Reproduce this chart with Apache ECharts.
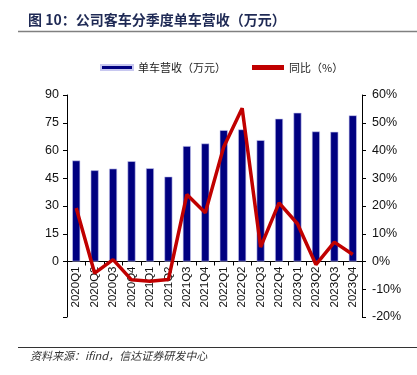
<!DOCTYPE html>
<html>
<head>
<meta charset="utf-8">
<script src="https://cdn.jsdelivr.net/npm/echarts@6/dist/echarts.min.js"></script>
<style>
html,body{margin:0;padding:0;background:#fff;}
#chart{width:417px;height:375px;}
</style>
</head>
<body>
<div id="chart"></div>
<script>
var quarters = ['2020Q1','2020Q2','2020Q3','2020Q4','2021Q1','2021Q2','2021Q3','2021Q4',
	'2022Q1','2022Q2','2022Q3','2022Q4','2023Q1','2023Q2','2023Q3','2023Q4'];
// 单车营收（万元）
var revenue = [54.6,49.3,50.2,54.2,50.4,45.9,62.4,63.8,71.0,71.4,65.6,77.2,80.4,70.3,70.1,79.0];
// 同比（%）
var yoy = [19.3,-4.2,0.7,-6.6,-7.1,-6.5,24.1,17.6,41.3,55.2,5.2,21.1,13.6,-1.1,7.0,2.5];
var leftLabels = [0,15,30,45,60,75,90];

var cjk = '"Noto Sans CJK SC", sans-serif';
var myChart = echarts.init(document.getElementById('chart'));
var option = {
	animation:false,
	textStyle:{fontFamily:'"Liberation Sans", Arial, sans-serif'},
	graphic:[
		{type:'text',left:28,top:13,style:{text:'图 10：公司客车分季度单车营收（万元）',font:'bold 14px ' + cjk,fill:'#1f2a55'}},
		{type:'line',shape:{x1:18,y1:31.5,x2:417,y2:31.5},style:{stroke:'#808080',lineWidth:1.5}},
		{type:'line',shape:{x1:18,y1:347.5,x2:417,y2:347.5},style:{stroke:'#333',lineWidth:1}},
		{type:'text',left:30,top:350,style:{text:'资料来源：ifind，信达证券研发中心',font:'italic 11px ' + cjk,fill:'#333'}}
	],
	legend:{
		top:57,left:95,itemGap:26,itemWidth:32,itemHeight:5,
		textStyle:{fontFamily:cjk,fontSize:11,color:'#222'},
		data:[{name:'单车营收（万元）',icon:'rect'},{name:'同比（%）',icon:'rect'}]
	},
	grid:{left:67,right:55,top:95,bottom:58,containLabel:false},
	xAxis:{
		type:'category',
		data:quarters,
		offset:-55.5,
		axisLine:{onZero:false,lineStyle:{color:'#000',width:1}},
		axisTick:{show:true,inside:false,length:4,lineStyle:{color:'#000'}},
		axisLabel:{rotate:90,fontSize:11.5,color:'#111',margin:5,interval:0}
	},
	yAxis:[
		{
			type:'value',min:-30,max:90,interval:15,
			splitLine:{show:false},
			axisLine:{show:true,lineStyle:{color:'#000'}},
			axisTick:{show:true,length:4,lineStyle:{color:'#000'},customValues:[-30,0,15,30,45,60,75,90]},
			axisLabel:{fontSize:12.5,color:'#111',margin:8,customValues:leftLabels}
		},
		{
			type:'value',min:-20,max:60,interval:10,
			splitLine:{show:false},
			axisLine:{show:true,lineStyle:{color:'#000'}},
			axisTick:{show:true,length:4,lineStyle:{color:'#000'}},
			axisLabel:{fontSize:12.5,color:'#111',margin:10,formatter:'{value}%'}
		}
	],
	series:[
		{
			name:'单车营收（万元）',
			type:'bar',
			yAxisIndex:0,
			data:revenue,
			barWidth:8,
			itemStyle:{color:'#000080',borderColor:'#c8c8f0',borderWidth:0.6}
		},
		{
			name:'同比（%）',
			type:'line',
			yAxisIndex:1,
			data:yoy,
			symbol:'none',
			lineStyle:{color:'#c00000',width:3.5},
			itemStyle:{color:'#c00000'}
		}
	]
};
myChart.setOption(option);
</script>
</body>
</html>
